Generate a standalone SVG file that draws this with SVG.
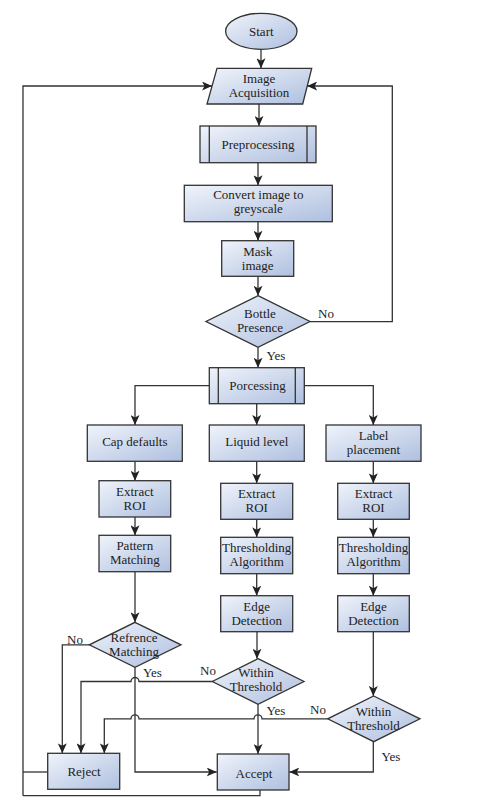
<svg xmlns="http://www.w3.org/2000/svg" width="480" height="811" viewBox="0 0 480 811">
<style>
.n{fill:url(#g);stroke:#333;stroke-width:1.3}
.l{fill:none;stroke:#333;stroke-width:1.3}
.c{fill:none;stroke:#333;stroke-width:1.3;marker-end:url(#a)}
text{font-family:'Liberation Serif','DejaVu Serif',serif;font-size:13px;fill:#222;text-anchor:middle}
.t{text-anchor:start}
</style>
<defs>
<linearGradient id="g" x1="0" y1="0" x2="1" y2="1">
<stop offset="0" stop-color="#f0f4fb"/>
<stop offset="1" stop-color="#aebfdf"/>
</linearGradient>
<marker id="a" markerUnits="userSpaceOnUse" markerWidth="10" markerHeight="9" refX="10" refY="4.5" orient="auto">
<path d="M0,0 L10,4.5 L0,9 L2.5,4.5 z" fill="#222"/>
</marker>
</defs>
<rect width="480" height="811" fill="#fff"/>
<g id="connectors">
<path class="c" d="M261,49.3 V68.3"/>
<path class="c" d="M259,104 V126"/>
<path class="c" d="M258,162.7 V185.3"/>
<path class="c" d="M258,221.7 V240.7"/>
<path class="c" d="M258,276.3 V295.7"/>
<path class="c" d="M258,347.3 V367.7"/>
<path class="c" d="M310,321.7 H392.3 V86 H307.2"/>
<path class="c" d="M23,795.7 V86 H212"/>
<path class="l" d="M47.7,772 H23"/>
<path class="l" d="M260,790 V795.7 H23"/>
<path class="c" d="M209.3,385.7 H135 V425"/>
<path class="c" d="M304.3,385.7 H373.3 V425"/>
<path class="c" d="M256.7,403.7 V425"/>
<path class="c" d="M135,461.3 V480.7"/>
<path class="c" d="M135,517 V535.3"/>
<path class="c" d="M135,571.7 V622.3"/>
<path class="c" d="M256.7,461.3 V483.3"/>
<path class="c" d="M256.7,519.3 V537.3"/>
<path class="c" d="M256.7,573.7 V595.7"/>
<path class="c" d="M257,631.7 V658.7"/>
<path class="c" d="M373.3,461.3 V483.3"/>
<path class="c" d="M373.3,519.3 V537.3"/>
<path class="c" d="M373.3,573.7 V595.7"/>
<path class="c" d="M373.3,631.7 V696"/>
<path class="c" d="M89.3,644.8 H62.3 V753.3"/>
<path class="c" d="M135,667.3 V772 H216.7"/>
<path class="c" d="M212.3,681.5 H139 A4,4 0 0 0 131,681.5 H81 V753.3"/>
<path class="c" d="M258,704.3 V754"/>
<path class="c" d="M327.7,718.8 H262 A4,4 0 0 0 254,718.8 H139 A4,4 0 0 0 131,718.8 H104.3 V753.3"/>
<path class="c" d="M373.3,741.7 V772 H289.3"/>
</g>
<g font-family="Liberation Serif, DejaVu Serif, serif">
<g id="start"><ellipse class="n" cx="261.3" cy="31.3" rx="35.7" ry="18"/><text x="261.3" y="35.8">Start</text></g>
<g id="image-acquisition"><polygon class="n" points="217,68.3 311.7,68.3 302.7,104 207,104"/><text x="259" y="83">Image</text><text x="259" y="97">Acquisition</text></g>
<g id="preprocessing"><rect class="n" x="200" y="126" width="116" height="36.7"/><path class="l" d="M209.3,126 V162.7 M307,126 V162.7"/><text x="258" y="148.5">Preprocessing</text></g>
<g id="greyscale"><rect class="n" x="184.3" y="185.3" width="148" height="36.4"/><text x="258.3" y="199">Convert image to</text><text x="258.3" y="213">greyscale</text></g>
<g id="mask"><rect class="n" x="221.7" y="240.7" width="72" height="35.6"/><text x="257.7" y="255.5">Mask</text><text x="257.7" y="269.5">image</text></g>
<g id="bottle"><polygon class="n" points="258,295.7 310,321.5 258,347.3 206,321.5"/><text x="260" y="317.5">Bottle</text><text x="260" y="331.5">Presence</text></g>
<g id="porcessing"><rect class="n" x="209.3" y="367.7" width="95" height="36"/><path class="l" d="M218.3,367.7 V403.7 M295.3,367.7 V403.7"/><text x="257.5" y="390">Porcessing</text></g>
<g id="cap"><rect class="n" x="87.3" y="425" width="95" height="36.3"/><text x="134.8" y="446">Cap defaults</text></g>
<g id="liquid"><rect class="n" x="209.3" y="425" width="95" height="36.3"/><text x="256.8" y="446">Liquid level</text></g>
<g id="label"><rect class="n" x="326" y="425" width="95" height="36.3"/><text x="373.5" y="439.5">Label</text><text x="373.5" y="453.5">placement</text></g>
<g id="roi1"><rect class="n" x="99" y="480.7" width="71.7" height="36.3"/><text x="134.8" y="495.5">Extract</text><text x="134.8" y="509.5">ROI</text></g>
<g id="roi2"><rect class="n" x="220.7" y="483.3" width="72" height="36"/><text x="256.7" y="498">Extract</text><text x="256.7" y="512">ROI</text></g>
<g id="roi3"><rect class="n" x="337.7" y="483.3" width="71.6" height="36"/><text x="373.5" y="497.5">Extract</text><text x="373.5" y="511.5">ROI</text></g>
<g id="pattern"><rect class="n" x="99" y="535.3" width="71.7" height="36.4"/><text x="134.8" y="550">Pattern</text><text x="134.8" y="564">Matching</text></g>
<g id="thresh2"><rect class="n" x="220.7" y="537.3" width="72" height="36.4"/><text x="256.7" y="552">Thresholding</text><text x="256.7" y="566">Algorithm</text></g>
<g id="thresh3"><rect class="n" x="337.7" y="537.3" width="71.6" height="36.4"/><text x="373.5" y="552">Thresholding</text><text x="373.5" y="566">Algorithm</text></g>
<g id="edge2"><rect class="n" x="220.7" y="595.7" width="72" height="36"/><text x="256.7" y="610.5">Edge</text><text x="256.7" y="624.5">Detection</text></g>
<g id="edge3"><rect class="n" x="337.7" y="595.7" width="71.6" height="36"/><text x="373.5" y="610.5">Edge</text><text x="373.5" y="624.5">Detection</text></g>
<g id="refrence"><polygon class="n" points="135,622.3 181,644.8 135,667.3 89.3,644.8"/><text x="134" y="641.5">Refrence</text><text x="134" y="655.5">Matching</text></g>
<g id="within2"><polygon class="n" points="258,658.7 304,681.5 258,704.3 212.3,681.5"/><text x="256" y="677">Within</text><text x="256" y="691">Threshold</text></g>
<g id="within3"><polygon class="n" points="373.7,696 420,718.8 373.7,741.7 327.7,718.8"/><text x="373.5" y="715.5">Within</text><text x="373.5" y="729.5">Threshold</text></g>
<g id="reject"><rect class="n" x="47.7" y="753.3" width="72" height="36"/><text x="84" y="775.5">Reject</text></g>
<g id="accept"><rect class="n" x="217.3" y="754" width="71.7" height="36"/><text x="254" y="777.5">Accept</text></g>
<g id="labels">
<text class="t" x="318" y="317.5">No</text>
<text class="t" x="266.5" y="359.5">Yes</text>
<text class="t" x="67" y="644">No</text>
<text class="t" x="143" y="676.5">Yes</text>
<text class="t" x="200" y="675">No</text>
<text class="t" x="266.5" y="715">Yes</text>
<text class="t" x="310" y="713.5">No</text>
<text class="t" x="381.5" y="761">Yes</text>
</g>
</g>
</svg>
